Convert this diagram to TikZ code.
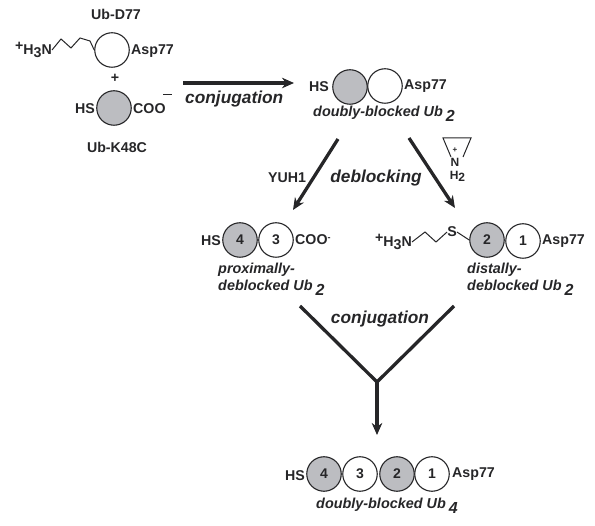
\documentclass[tikz,border=0pt]{standalone}
\usepackage{fontspec}
\setmainfont{Liberation Sans}
\usetikzlibrary{arrows.meta}
\definecolor{ink}{RGB}{38,38,40}
\definecolor{shade}{RGB}{188,189,193}
\tikzset{
  >={Stealth[length=12pt,width=10.5pt]},
  bead/.style={circle,draw=ink,line width=1.1pt,fill=#1,minimum size=34.5pt,inner sep=0pt,
    text=ink,font=\fontsize{14}{14}\selectfont\bfseries},
  bead/.default=white,
  tag/.style={text=ink,inner sep=0pt,font=\fontsize{14.2}{14}\selectfont\bfseries},
  small tag/.style={text=ink,inner sep=0pt,font=\fontsize{12}{12}\selectfont\bfseries},
  ub tag/.style={text=ink,inner sep=0pt,align=left,font=\fontsize{14.4}{17}\selectfont\bfseries\itshape},
  step tag/.style={text=ink,inner sep=0pt,font=\fontsize{17.3}{17}\selectfont\bfseries\itshape},
  flow/.style={->,draw=ink,line width=3.3pt},
  tail/.style={draw=ink,line width=3.3pt},
  chain/.style={draw=ink,line width=1pt},
}
\newcommand{\subs}[1]{\hspace{3pt}\raisebox{-4.5pt}{\fontsize{16}{16}\selectfont #1}}
\newcommand{\amine}{\raisebox{4pt}{+}H\raisebox{-2.5pt}{3}N}
\begin{document}
\begin{tikzpicture}[x=1pt,y=-1pt]
  \useasboundingbox (0,0) rectangle (595,526);
  % top left monomers
  \node[tag] (d77) at (116,14) {Ub-D77};
  \node[bead] (ca) at (112,50) {};
  \node[tag,anchor=west] (asp) at (131,51) {Asp77};
  \node[tag,anchor=east] (amine) at (52,50) {\amine};
  \draw[chain] (amine.east) -- (61,39) -- (71,48) -- (80,38) -- (90,41) -- (ca.west);
  \node[tag] (plus) at (115,78) {+};
  \node[bead=shade] (cb) at (114,108) {};
  \node[tag,anchor=east] (hsb) at (95,109) {HS};
  \node[tag,anchor=west] (coo) at (133,109) {COO};
  \node[tag,anchor=west] (minus) at (163,96) {\rule[3pt]{9pt}{1pt}};
  \node[tag] (k48) at (117,147) {Ub-K48C};
  % doubly blocked dimer
  \node[bead=shade] (da) at (350,87) {};
  \node[bead] (db) at (385,86) {};
  \node[tag,anchor=east] (hsd) at (329,87) {HS};
  \node[tag,anchor=west] (aspd) at (404,86) {Asp77};
  \node[ub tag,anchor=west] (dname) at (313,114) {doubly-blocked Ub\subs{2}};
  \coordinate (c1) at (183,83);
  \coordinate (c2) at (294,83);
  \draw[flow] (c1) -- (c2);
  \node[step tag,anchor=west] (conja) at (185,99) {conjugation};
  % deblocking
  \coordinate (l1) at (338,139);
  \coordinate (l2) at (293,210);
  \coordinate (r1) at (409,138);
  \coordinate (r2) at (455,208);
  \draw[flow] (l1) -- (l2);
  \draw[flow] (r1) -- (r2);
  \node[tag] (yuh) at (287,178) {YUH1};
  \node[step tag] (deb) at (376,178) {deblocking};
  \draw[chain] (451,157) -- (443,138) -- (471,138) -- (463,157);
  \node[text=ink,inner sep=0pt,font=\fontsize{8}{8}\selectfont\bfseries] (pl) at (455,150) {+};
  \node[small tag] (n) at (455,162.5) {N};
  \node[small tag] (h2) at (457.5,176.5) {H\raisebox{-2.5pt}{2}};
  % proximally deblocked
  \node[bead=shade] (pa) at (240,240) {4};
  \node[bead] (pb) at (276,240) {3};
  \node[tag,anchor=east] (hsp) at (221,241) {HS};
  \node[tag,anchor=west] (coop) at (295,240) {COO\raisebox{4pt}{\fontsize{9}{9}\selectfont -}};
  \node[ub tag,anchor=north west] (pname) at (218,263) {proximally-\\deblocked Ub\subs{2}};
  % distally deblocked
  \node[bead=shade] (ra) at (487,240) {2};
  \node[bead] (rb) at (523,241) {1};
  \node[tag,anchor=west] (aspr) at (542,241) {Asp77};
  \node[tag,anchor=east] (amr) at (412,242) {\amine};
  \node[tag] (s) at (452,232) {S};
  \draw[chain] (amr.east) -- (425,232) -- (436,242) -- (s.west);
  \draw[chain] (s.east) -- (ra.west);
  \node[ub tag,anchor=north west] (rname) at (467,263) {distally-\\deblocked Ub\subs{2}};
  % second conjugation
  \coordinate (v1) at (300,306);
  \coordinate (v2) at (454,306);
  \coordinate (v0) at (377,382);
  \coordinate (v3) at (377,435);
  \draw[tail] (v1) -- (v0) -- (v2);
  \draw[flow] (v0) -- (v3);
  \node[step tag] (conjb) at (380,319) {conjugation};
  % tetramer
  \foreach \t/\x/\c [count=\i] in {4/324/shade,3/360/white,2/397/shade,1/432/white}{
    \node[bead=\c] (t\i) at (\x,474) {\t};
  }
  \node[tag,anchor=east] (hst) at (305,476) {HS};
  \node[tag,anchor=west] (aspt) at (452,474) {Asp77};
  \node[ub tag,anchor=west] (tname) at (316,506) {doubly-blocked Ub\subs{4}};
\end{tikzpicture}
\end{document}
